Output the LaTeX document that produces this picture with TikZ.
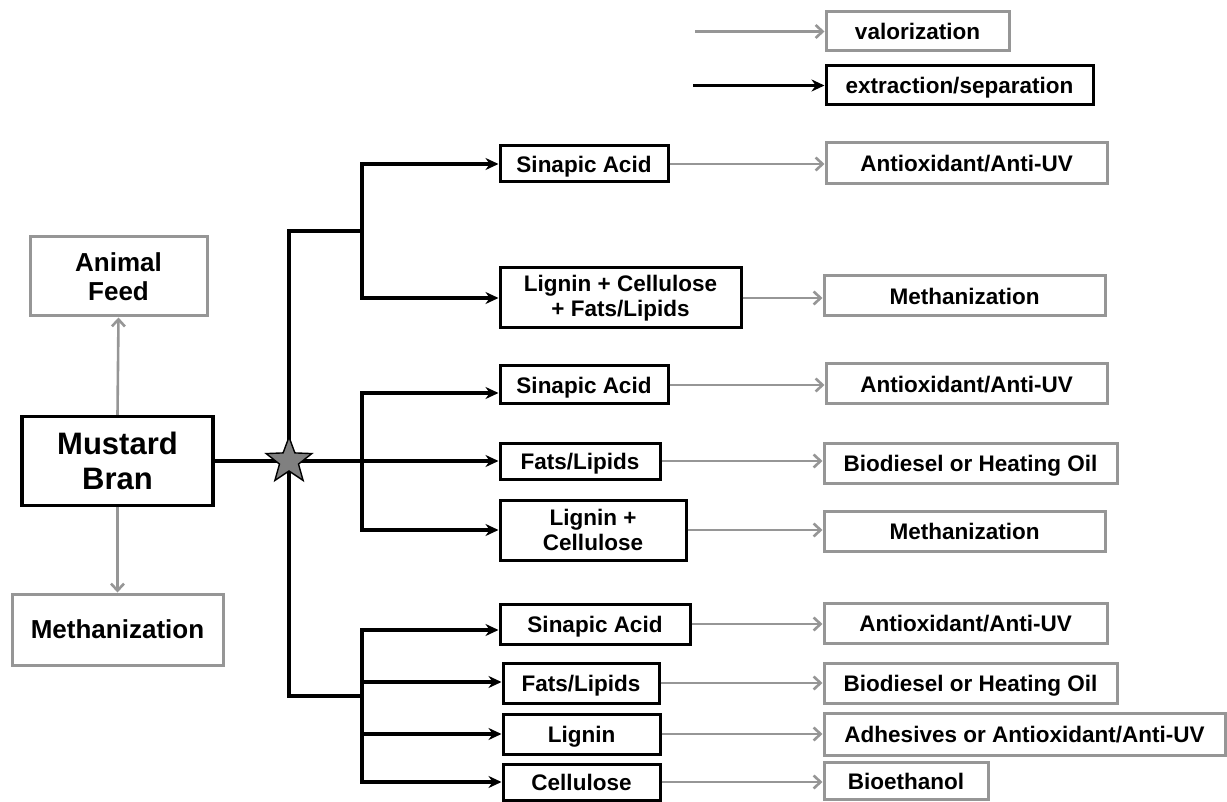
\documentclass[tikz,border=0pt]{standalone}
\usepackage{fontspec}
\setmainfont{Liberation Sans}
\usetikzlibrary{shapes.geometric}
\usetikzlibrary{arrows.meta}

\definecolor{valgray}{RGB}{150,150,150}

\begin{document}
\begin{tikzpicture}[x=1pt,y=-1pt]
        \tikzset{boxsize/.style 2 args = {minimum width=#1pt,minimum height=#2pt}}
        \tikzset{sep/.style = {draw=black,line width=3pt,inner sep=0pt,align=center,font=\bfseries\fontsize{22.5}{25}\selectfont}}
        \tikzset{val/.style = {draw=valgray,line width=3pt,inner sep=0pt,align=center,font=\bfseries\fontsize{22.5}{25}\selectfont}}
        \tikzset{oneline/.style = {text height=16.2pt,text depth=0pt}}
        \tikzset{sepline/.style = {line width=3.4pt,line cap=rect}}
        \tikzset{sepedge/.style = {-{Stealth[length=13pt,width=12pt]},line width=3.4pt}}
        \tikzset{valedge/.style = {-{Straight Barb[length=7pt,width=13pt]},line width=2.6pt,draw=valgray}}

        \useasboundingbox (0,0) rectangle (1227,802);

        % legend
        \node[val,oneline,boxsize={183}{39}] (valor) at (917.5,31.5) {valorization};
        \node[sep,oneline,boxsize={267}{39}] (extr) at (959.5,85.5) {extraction/separation};
        \coordinate (lv) at (695,31.5);
        \coordinate (le) at (693,85.5);
        \draw[valedge] (lv) -- (valor.west);
        \draw[sepedge] (le) -- (extr.west);

        % source
        \node[sep,boxsize={191}{89},line width=3.4pt,font=\bfseries\fontsize{31}{35}\selectfont] (bran) at (117.5,461) {Mustard\\Bran};
        \node[val,boxsize={177}{79},font=\bfseries\fontsize{26}{29}\selectfont] (feed) at (118.5,276.5) {Animal\\Feed};
        \node[val,oneline,text height=18.7pt,boxsize={211}{71},font=\bfseries\fontsize{26}{29}\selectfont] (methL) at (117.5,629.5) {Methanization};
        \draw[valedge] (bran.north) -- (feed.south);
        \draw[valedge] (bran.south) -- (methL.north);

        % extracted fractions
        \node[sep,oneline,boxsize={168}{36}] (sinA) at (584,164) {Sinapic Acid};
        \node[sep,boxsize={241}{60}] (lcf) at (620.5,298) {Lignin + Cellulose\\+ Fats/Lipids};
        \node[sep,oneline,boxsize={168}{38}] (sinB) at (584,385) {Sinapic Acid};
        \node[sep,oneline,boxsize={160}{36}] (fatB) at (580,461) {Fats/Lipids};
        \node[sep,boxsize={186}{60}] (lcB) at (593,530) {Lignin +\\Cellulose};
        \node[sep,oneline,boxsize={190}{40}] (sinC) at (595,624) {Sinapic Acid};
        \node[sep,oneline,boxsize={156}{40}] (fatC) at (581,683) {Fats/Lipids};
        \node[sep,oneline,boxsize={157}{40}] (ligC) at (581.5,734) {Lignin};
        \node[sep,oneline,boxsize={157}{36}] (celC) at (581.5,782) {Cellulose};

        % valorized products
        \node[val,oneline,boxsize={281}{41}] (antA) at (966.5,163.5) {Antioxidant/Anti-UV};
        \node[val,oneline,boxsize={281}{40}] (methA) at (964.5,296) {Methanization};
        \node[val,oneline,boxsize={281}{40}] (antB) at (966.5,384) {Antioxidant/Anti-UV};
        \node[val,oneline,boxsize={293}{40}] (bioB) at (970.5,463) {Biodiesel or Heating Oil};
        \node[val,oneline,boxsize={281}{40}] (methB) at (964.5,531) {Methanization};
        \node[val,oneline,boxsize={283}{40}] (antC) at (965.5,623) {Antioxidant/Anti-UV};
        \node[val,oneline,boxsize={293}{40}] (bioC) at (970.5,683) {Biodiesel or Heating Oil};
        \node[val,oneline,boxsize={401}{42}] (adhC) at (1024.5,734) {Adhesives or Antioxidant/Anti-UV};
        \node[val,oneline,boxsize={164}{37}] (bioeC) at (906,781) {Bioethanol};

        % trunk and branches
        \coordinate (ttop) at (289,231);
        \coordinate (tbot) at (289,696);
        \coordinate (ba) at (362,231);
        \coordinate (ba1) at (362,164);
        \coordinate (ba2) at (362,298);
        \coordinate (bb1) at (362,393);
        \coordinate (bb2) at (362,461);
        \coordinate (bb3) at (362,530);
        \coordinate (bc) at (362,696);
        \coordinate (bc1) at (362,630);
        \coordinate (bc2) at (362,682);
        \coordinate (bc3) at (362,734);
        \coordinate (bc4) at (362,782);

        \draw[sepline] (ttop) -- (tbot);
        \draw[sepline] (ttop) -- (ba);
        \draw[sepline] (ba1) -- (ba2);
        \draw[sepline] (bb1) -- (bb3);
        \draw[sepline] (tbot) -- (bc);
        \draw[sepline] (bc1) -- (bc4);

        \draw[sepedge] (bran.east) -- (fatB.west |- bran.east);
        \draw[sepedge] (ba1) -- (sinA.west |- ba1);
        \draw[sepedge] (ba2) -- (lcf.west |- ba2);
        \draw[sepedge] (bb1) -- (sinB.west |- bb1);
        \draw[sepedge] (bb3) -- (lcB.west |- bb3);
        \draw[sepedge] (bc1) -- (sinC.west |- bc1);
        \draw[sepedge] (bc2) -- (fatC.west |- bc2);
        \draw[sepedge] (bc3) -- (ligC.west |- bc3);
        \draw[sepedge] (bc4) -- (celC.west |- bc4);

        \node[star,star points=5,star point ratio=2.4,minimum size=48pt,inner sep=0pt,draw=black,line width=1.4pt,fill=gray] (hub) at (289,461) {};

        \draw[valedge] (sinA.east) -- (antA.west |- sinA.east);
        \draw[valedge] (lcf.east) -- (methA.west |- lcf.east);
        \draw[valedge] (sinB.east) -- (antB.west |- sinB.east);
        \draw[valedge] (fatB.east) -- (bioB.west |- fatB.east);
        \draw[valedge] (lcB.east) -- (methB.west |- lcB.east);
        \draw[valedge] (sinC.east) -- (antC.west |- sinC.east);
        \draw[valedge] (fatC.east) -- (bioC.west |- fatC.east);
        \draw[valedge] (ligC.east) -- (adhC.west |- ligC.east);
        \draw[valedge] (celC.east) -- (bioeC.west |- celC.east);
\end{tikzpicture}
\end{document}
